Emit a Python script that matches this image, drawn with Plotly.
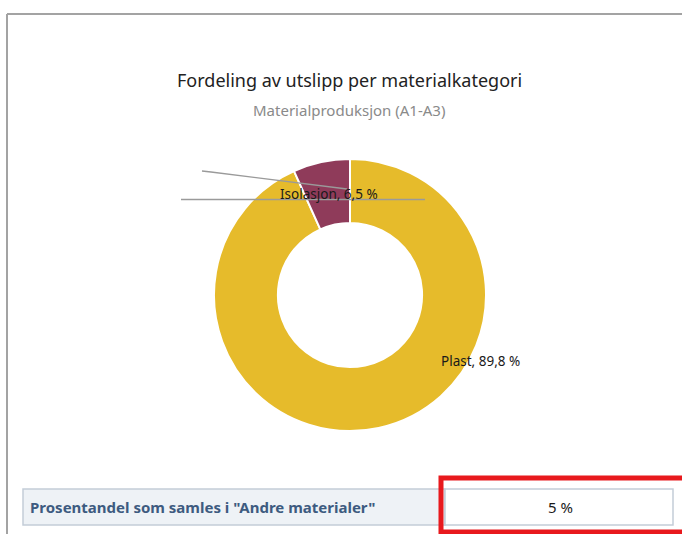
import plotly.graph_objects as go

# ---- data ----
categories = ["Plast", "Isolasjon"]
shares = [89.8, 6.5]
colors = ["#e6bb2b", "#8f3b5a"]
title_text = "Fordeling av utslipp per materialkategori"
subtitle_text = "Materialproduksjon (A1-A3)"
table_label = 'Prosentandel som samles i "Andre materialer"'
table_value = "5 %"

W, H = 682, 534


def px(x):
    return x / W


def py(y):
    return 1 - y / H


def fmt(v):
    return f"{v:.1f}".replace(".", ",") + " %"


slice_text = {c: f"{c}, {fmt(v)}" for c, v in zip(categories, shares)}

cx, cy, R = 350, 295, 136

fig = go.Figure()
fig.add_trace(go.Pie(
    labels=categories,
    values=shares,
    sort=False,
    direction="counterclockwise",
    rotation=0,
    hole=0.53,
    marker=dict(colors=colors, line=dict(color="white", width=2)),
    textinfo="none",
    hoverinfo="label+percent",
    showlegend=False,
    domain=dict(x=[px(cx - R), px(cx + R)], y=[py(cy + R), py(cy - R)]),
))

shapes = []
# outer frame
shapes.append(dict(type="line", xref="paper", yref="paper",
                   x0=px(7), x1=px(690), y0=py(14), y1=py(14),
                   line=dict(color="#a3a3a3", width=2)))
shapes.append(dict(type="line", xref="paper", yref="paper",
                   x0=px(7), x1=px(7), y0=py(14), y1=py(540),
                   line=dict(color="#a3a3a3", width=2)))
# leader lines
shapes.append(dict(type="path", xref="paper", yref="paper",
                   path=f"M {px(202)},{py(171)} L {px(211)},{py(172)} L {px(347)},{py(189)}",
                   line=dict(color="#9a9a9a", width=1.3)))
shapes.append(dict(type="line", xref="paper", yref="paper",
                   x0=px(181), x1=px(425), y0=py(199.5), y1=py(199.5),
                   line=dict(color="#9a9a9a", width=1.3)))
# table cells
shapes.append(dict(type="rect", xref="paper", yref="paper",
                   x0=px(23), x1=px(445), y0=py(525), y1=py(489),
                   fillcolor="#eef2f6", line=dict(color="#c3cdd8", width=1.5), layer="below"))
shapes.append(dict(type="rect", xref="paper", yref="paper",
                   x0=px(445), x1=px(673), y0=py(525), y1=py(489),
                   fillcolor="#ffffff", line=dict(color="#c3cdd8", width=1.5), layer="below"))
# red highlight
shapes.append(dict(type="rect", xref="paper", yref="paper",
                   x0=px(441), x1=px(700), y0=py(532), y1=py(478),
                   line=dict(color="#e8191d", width=5)))


def ann(text, x, y, size, color, family="Noto Sans", xanchor="center"):
    return dict(text=text, x=px(x), y=py(y), xref="paper", yref="paper",
                xanchor=xanchor, yanchor="middle", showarrow=False,
                font=dict(family=family, size=size, color=color))


annotations = [
    ann(title_text, 349, 80, 18, "#222222"),
    ann(subtitle_text, 349, 110, 15, "#8a8a8a"),
    ann(slice_text["Isolasjon"], 329, 194, 13.5, "#1a1a1a"),
    ann(slice_text["Plast"], 480, 361, 13.5, "#1a1a1a"),
    ann(f"<b>{table_label}</b>", 28, 507, 15, "#3d5b80", xanchor="left"),
    ann(table_value, 560, 507, 15, "#1a1a1a"),
]

fig.update_layout(
    width=W, height=H,
    margin=dict(l=0, r=0, t=0, b=0),
    paper_bgcolor="white", plot_bgcolor="white",
    shapes=shapes, annotations=annotations,
    showlegend=False,
)

fig.write_html("out.html", config={"displayModeBar": False},
               post_script="document.body.style.margin='0';")
